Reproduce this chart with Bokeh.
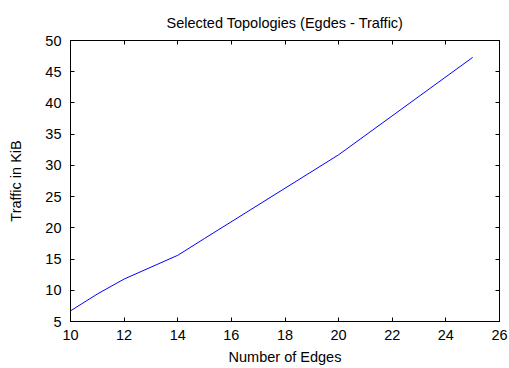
from bokeh.plotting import figure
from bokeh.models import Range1d, LinearAxis, FixedTicker, Title
from bokeh.embed import file_html
from bokeh.resources import INLINE

edges = [10, 11, 12, 14, 15, 20, 25]
traffic_kib = [6.7, 9.4, 11.8, 15.6, 18.3, 31.7, 47.3]
x_ticks = [10, 12, 14, 16, 18, 20, 22, 24, 26]
y_ticks = [5, 10, 15, 20, 25, 30, 35, 40, 45, 50]

FONT = "Liberation Sans"
FS = "14.5px"

p = figure(width=509, height=368, output_backend="svg", toolbar_location=None,
           x_range=Range1d(10, 26), y_range=Range1d(5, 50),
           min_border_left=70, min_border_right=10, min_border_top=40, min_border_bottom=47,
           x_axis_location=None, y_axis_location=None)
p.background_fill_color = "white"
p.border_fill_color = "white"
p.outline_line_color = "black"
p.outline_line_width = 1
p.xgrid.visible = False
p.ygrid.visible = False

def style(ax, ticks, labels=True):
    ax.ticker = FixedTicker(ticks=ticks)
    ax.major_tick_in = 4
    ax.major_tick_out = 0
    ax.minor_tick_line_color = None
    ax.axis_line_color = "black"
    ax.major_tick_line_color = "black"
    ax.major_label_text_font = FONT
    ax.major_label_text_color = "black"
    ax.major_label_text_font_size = FS
    if labels:
        ax.major_label_standoff = 8
    else:
        ax.major_label_overrides = {t: "" for t in ticks}
        ax.major_label_standoff = 0
    ax.axis_label_text_font = FONT
    ax.axis_label_text_font_size = FS
    ax.axis_label_text_font_style = "normal"
    ax.axis_label_text_color = "black"

xb = LinearAxis(axis_label="Number of Edges")
style(xb, x_ticks)
xb.axis_label_standoff = 6
p.add_layout(xb, "below")

yl = LinearAxis(axis_label="Traffic in KiB")
style(yl, y_ticks)
yl.major_label_standoff = 9
yl.axis_label_standoff = 18
p.add_layout(yl, "left")

xt = LinearAxis()
style(xt, x_ticks, labels=False)
p.add_layout(xt, "above")

yr = LinearAxis()
style(yr, y_ticks, labels=False)
p.add_layout(yr, "right")

t = Title(text="Selected Topologies (Egdes - Traffic)", align="center",
          text_font=FONT, text_font_size=FS, text_font_style="normal",
          text_color="black", standoff=20)
p.add_layout(t, "above")

p.line(edges, traffic_kib, line_color="#0000ff", line_width=1)

open("out.html", "w").write(file_html(p, INLINE))
